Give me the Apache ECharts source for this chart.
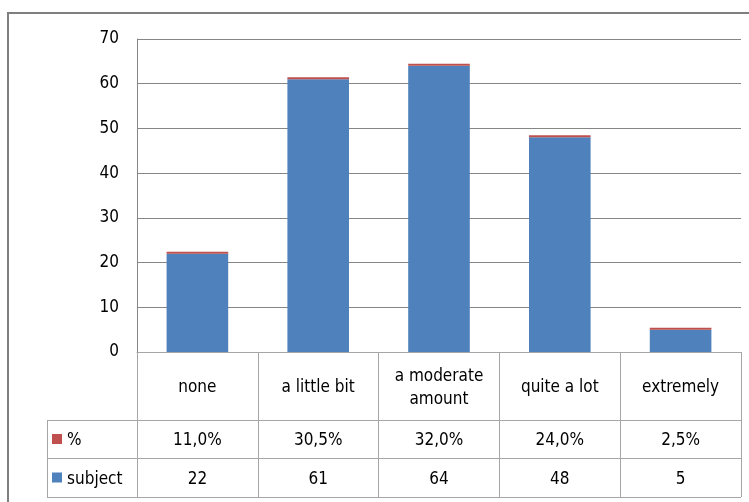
<!DOCTYPE html>
<html>
<head>
<meta charset="utf-8">
<script src="https://cdn.jsdelivr.net/npm/echarts@6/dist/echarts.min.js"></script>
<style>
  html, body { margin: 0; padding: 0; background: #fff; }
  #chart { width: 749px; height: 502px; }
</style>
</head>
<body>
<div id="chart"></div>
<script>
// chart data
const categories = ["none", "a little bit", "a moderate\namount", "quite a lot", "extremely"];
const subjectValues = [22, 61, 64, 48, 5];
const percentValues = [0.11, 0.305, 0.32, 0.24, 0.025];
const percentLabels = ["11,0%", "30,5%", "32,0%", "24,0%", "2,5%"];
const seriesNames = ["%", "subject"];
const yMin = 0, yMax = 70, yStep = 10;

const font = "'Liberation Sans Narrow', 'DejaVu Sans Condensed', sans-serif";
const gridColor = "#868686";
const tableColor = "#a6a6a6";
const colors = { pct: "#C0504D", subject: "#4F81BD" };

// layout
const grid = { left: 137, top: 39, right: 8, bottom: 150 };
const plotBottom = 502 - grid.bottom;
const rowLines = [420, 458, 497]; // bottom edges of the three table rows
const legendLeft = 47;

const chart = echarts.init(document.getElementById("chart"));

chart.setOption({
  animation: false,
  grid: grid,
  xAxis: {
    type: "category",
    data: categories,
    boundaryGap: true,
    axisLine: { lineStyle: { color: tableColor, width: 1 } },
    axisTick: { show: true, interval: 0, length: 497 - plotBottom, lineStyle: { color: tableColor } },
    axisLabel: { show: false },
  },
  yAxis: {
    type: "value",
    min: yMin,
    max: yMax,
    interval: yStep,
    axisLine: { show: true, lineStyle: { color: gridColor } },
    axisTick: { show: false },
    axisLabel: { color: "#000", fontSize: 17, fontFamily: font, margin: 18 },
    splitLine: { lineStyle: { color: gridColor, width: 1 } },
  },
  series: [
    {
      name: seriesNames[1],
      type: "bar",
      stack: "total",
      barWidth: "51%",
      data: subjectValues,
      itemStyle: { color: colors.subject },
    },
    {
      name: seriesNames[0],
      type: "bar",
      stack: "total",
      barWidth: "51%",
      barMinHeight: 2,
      data: percentValues,
      itemStyle: { color: colors.pct },
    },
  ],
});

// data table under the plot
function buildTable() {
  const els = [];
  const right = 749 - grid.right;
  // outer chart border
  els.push({
    type: "polyline",
    shape: { points: [[8, 502], [8, 13], [749, 13]] },
    style: { stroke: "#7f7f7f", lineWidth: 2, fill: null },
  });
  // horizontal row lines
  rowLines.forEach((y) => {
    els.push({
      type: "line",
      shape: { x1: legendLeft, y1: y + 0.5, x2: right, y2: y + 0.5 },
      style: { stroke: tableColor, lineWidth: 1 },
    });
  });
  // legend column left edge
  els.push({
    type: "line",
    shape: { x1: legendLeft + 0.5, y1: rowLines[0], x2: legendLeft + 0.5, y2: rowLines[2] },
    style: { stroke: tableColor, lineWidth: 1 },
  });
  const rowCenters = [
    (plotBottom + rowLines[0]) / 2 + 2,
    (rowLines[0] + rowLines[1]) / 2 + 2,
    (rowLines[1] + rowLines[2]) / 2 + 2,
  ];
  const textStyle = { fill: "#000", fontSize: 17, fontFamily: font, align: "center", verticalAlign: "middle" };
  categories.forEach((c, i) => {
    const x = chart.convertToPixel({ xAxisIndex: 0 }, i);
    els.push({ type: "text", x: x, y: rowCenters[0], style: Object.assign({ text: c, lineHeight: 23 }, textStyle) });
    els.push({ type: "text", x: x, y: rowCenters[1], style: Object.assign({ text: percentLabels[i] }, textStyle) });
    els.push({ type: "text", x: x, y: rowCenters[2], style: Object.assign({ text: String(subjectValues[i]) }, textStyle) });
  });
  // legend keys inside the table
  [[seriesNames[0], colors.pct, rowCenters[1]], [seriesNames[1], colors.subject, rowCenters[2]]].forEach(([name, col, y]) => {
    els.push({ type: "rect", shape: { x: 52, y: y - 7, width: 10, height: 10 }, style: { fill: col } });
    els.push({
      type: "text", x: 67, y: y,
      style: { text: name, fill: "#000", fontSize: 17, fontFamily: font, align: "left", verticalAlign: "middle" },
    });
  });
  chart.setOption({ graphic: { elements: els } });
}
buildTable();
</script>
</body>
</html>
